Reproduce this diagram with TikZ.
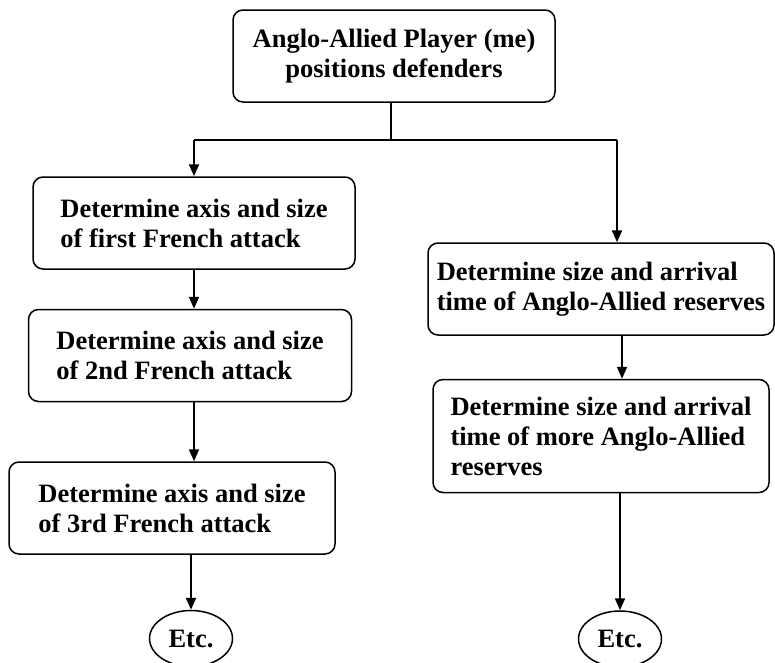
\documentclass[tikz,border=0pt]{standalone}
\usepackage{fontspec}
\setmainfont{Liberation Serif}
\usetikzlibrary{positioning}
\usetikzlibrary{shapes.geometric}
\usetikzlibrary{arrows.meta}
\tikzset{flow box/.style={shape=rectangle, rounded corners=10pt,
    draw, line width=1.5pt, align=left, minimum height=92pt,
    font=\bfseries\fontsize{26.5}{30}\selectfont}}
\tikzset{end node/.style={shape=ellipse, draw, line width=1.5pt,
    inner sep=0pt, minimum width=83pt, minimum height=56pt,
    font=\bfseries\fontsize{26.5}{30}\selectfont}}
\tikzset{flow/.style={line width=2pt, -{Triangle[length=12pt,width=10pt]}}}

\begin{document}
\begin{tikzpicture}[x=1pt,y=-1pt]
    \useasboundingbox (0,0) rectangle (775,662);

    \node[flow box, minimum width=322pt, align=center] (player) at (394,56) {Anglo-Allied Player (me)\\positions defenders};

    % French attacks
    \node[flow box, minimum width=322pt] (attack1) at (194,223) {Determine axis and size\\of first French attack};
    \node[flow box, minimum width=323pt] (attack2) [below = 39pt of attack1, xshift=-4pt] {Determine axis and size\\of 2nd French attack};
    \node[flow box, minimum width=326pt] (attack3) [below = 59pt of attack2, xshift=-18pt] {Determine axis and size\\of 3rd French attack};
    \node[end node] (etc1) [below = 55pt of attack3, xshift=19pt] {Etc.};

    % Anglo-Allied reserves
    \node[flow box, minimum width=346pt] (reserves1) at (601,289) {Determine size and arrival\\time of Anglo-Allied reserves};
    \node[flow box, minimum width=336pt, minimum height=113pt] (reserves2) [below = 43pt of reserves1] {Determine size and arrival\\time of more Anglo-Allied\\reserves};
    \node[end node] (etc2) [below = 117pt of reserves2, xshift=19pt] {Etc.};

    \coordinate (split) at (391,140);
    \coordinate (left end) at (194,140);
    \coordinate (right end) at (617,140);

    \draw[line width=2pt] (player.south -| split) -- (split);
    \draw[line width=2pt] (left end) -- (right end);

    \draw[flow] (left end) -- (left end |- attack1.north);
    \draw[flow] (attack1.south -| left end) -- (attack2.north -| left end);
    \draw[flow] (attack2.south -| left end) -- (attack3.north -| left end);
    \draw[flow] (attack3.south -| etc1) -- (etc1.north);

    \draw[flow] (right end) -- (right end |- reserves1.north);
    \draw[flow] ([xshift=21pt]reserves1.south) -- ([xshift=21pt]reserves2.north);
    \draw[flow] (reserves2.south -| etc2) -- (etc2.north);
\end{tikzpicture}
\end{document}
